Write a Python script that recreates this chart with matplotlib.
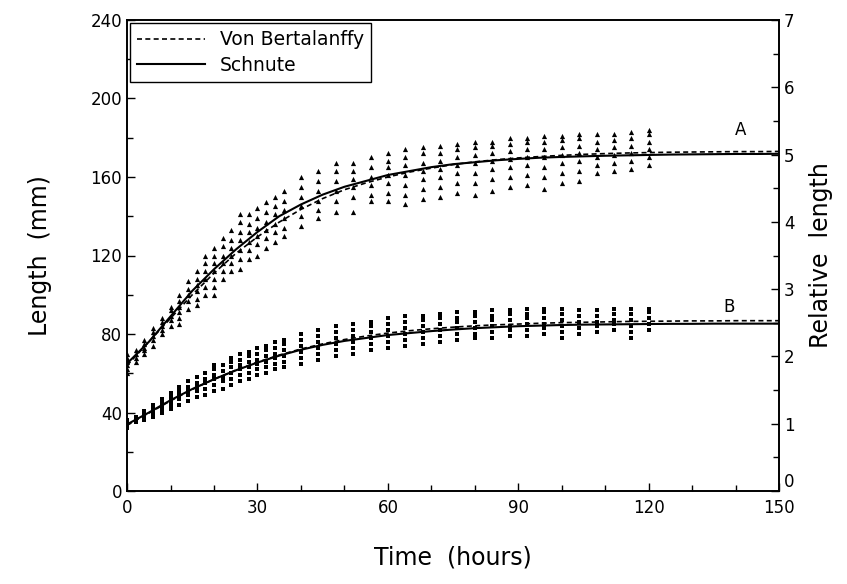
import matplotlib
matplotlib.use("Agg")
import matplotlib.pyplot as plt
from matplotlib.ticker import MultipleLocator
import numpy as np

# ---------------- data ----------------
sample_times = [0, 2, 4, 6, 8, 10, 12, 14, 16, 18, 20, 22, 24, 26, 28, 30, 32, 34, 36,
                40, 44, 48, 52, 56, 60, 64, 68, 72, 76, 80, 84, 88, 92, 96, 100, 104,
                108, 112, 116, 120]

group_a = [
    [60, 62, 64, 66, 68, 70], [66, 68, 70, 72], [70, 72, 73, 75, 77], [74, 77, 79, 81, 83],
    [80, 82, 84, 86, 88], [84, 87, 89, 92, 94], [85, 88, 91, 94, 97, 100],
    [93, 97, 100, 103, 107], [95, 98, 102, 105, 108, 112], [100, 104, 108, 112, 116, 120],
    [100, 104, 108, 112, 116, 120, 124], [108, 112, 116, 120, 125, 129],
    [112, 116, 120, 124, 128, 133], [113, 118, 123, 128, 132, 137, 141],
    [118, 123, 127, 132, 136, 141], [120, 126, 130, 134, 139, 144],
    [124, 129, 133, 137, 142, 147], [127, 132, 136, 141, 145, 150],
    [130, 134, 139, 143, 148, 153], [135, 140, 145, 150, 155, 160],
    [139, 143, 148, 153, 158, 163], [142, 148, 153, 158, 163, 167],
    [142, 150, 155, 159, 163, 167], [148, 151, 156, 160, 165, 170],
    [148, 152, 157, 161, 165, 168, 172], [146, 151, 156, 161, 166, 170, 174],
    [149, 154, 159, 163, 167, 172, 175], [150, 155, 160, 164, 168, 172, 176],
    [152, 157, 162, 166, 170, 174, 177], [151, 157, 162, 167, 171, 175, 178],
    [153, 159, 164, 168, 172, 176, 178], [155, 160, 165, 169, 173, 177, 180],
    [156, 161, 166, 170, 174, 178, 180], [154, 160, 165, 170, 174, 178, 181],
    [157, 162, 167, 171, 175, 179, 181], [158, 163, 168, 172, 176, 180, 182],
    [162, 166, 170, 174, 178, 182], [163, 167, 171, 175, 179, 182],
    [164, 168, 172, 176, 180, 183], [166, 170, 174, 178, 182, 184],
]

group_b = [
    [32, 34, 35, 36], [35, 36, 37, 38], [36, 38, 39, 40, 41], [38, 40, 41, 43, 44],
    [40, 42, 44, 45, 47], [42, 44, 46, 48, 50], [44, 47, 49, 51, 53], [46, 49, 51, 53, 56],
    [48, 51, 53, 55, 58], [49, 52, 55, 57, 60], [51, 54, 57, 59, 62, 64],
    [52, 56, 58, 61, 64], [54, 57, 60, 63, 66, 68], [56, 59, 62, 64, 67, 70],
    [57, 60, 63, 66, 69, 71], [59, 62, 65, 67, 70, 73], [60, 63, 66, 69, 72, 74],
    [62, 65, 68, 70, 73, 76], [63, 66, 69, 72, 75, 77], [65, 68, 71, 74, 77, 80],
    [67, 70, 73, 76, 79, 82], [69, 72, 75, 78, 81, 84], [70, 73, 76, 79, 82, 85],
    [72, 75, 78, 81, 84, 86], [73, 76, 79, 82, 85, 88], [74, 77, 80, 83, 86, 89],
    [75, 78, 81, 84, 87, 89], [76, 79, 82, 85, 88, 90], [77, 80, 83, 86, 88, 91],
    [78, 80, 83, 86, 89, 91], [78, 81, 84, 87, 89, 92], [79, 82, 84, 87, 90, 92],
    [79, 82, 85, 88, 90, 93], [80, 83, 85, 88, 91, 93], [78, 81, 84, 87, 90, 93],
    [80, 83, 86, 89, 92], [81, 84, 86, 89, 92], [82, 85, 87, 90, 93],
    [78, 81, 84, 87, 90, 93], [82, 85, 88, 91, 93],
]

curve_t = [0, 5, 10, 15, 20, 25, 30, 35, 40, 45, 50, 55, 60, 65, 70, 75, 80, 85, 90,
           95, 100, 105, 110, 115, 120, 125, 130, 135, 140, 145, 150]
schnute_a = [65, 76, 89, 102, 113, 123, 132, 140, 146, 151, 155, 158, 161, 163, 165, 166.5,
             167.5, 168.5, 169.2, 169.8, 170.2, 170.5, 170.8, 171, 171.2, 171.4, 171.5,
             171.6, 171.7, 171.7, 171.8]
vb_a = [64, 76, 88, 100, 111, 121, 129.5, 137, 143.5, 149, 153.5, 157, 160, 162.5, 164.5,
        166.3, 167.7, 168.8, 169.7, 170.4, 171, 171.5, 171.9, 172.2, 172.4, 172.6, 172.7,
        172.8, 172.9, 172.9, 173]
schnute_b = [34, 40, 46.3, 52, 57, 61.5, 65.5, 69, 72, 74.5, 76.5, 78, 79.5, 80.5, 81.5,
             82.3, 83, 83.5, 84, 84.3, 84.6, 84.8, 84.9, 85, 85.1, 85.2, 85.2, 85.3, 85.3,
             85.3, 85.3]
vb_b = [33.5, 39.7, 46, 51.8, 57, 61.6, 65.7, 69.3, 72.4, 75, 77.2, 79, 80.5, 81.7, 82.7,
        83.5, 84.2, 84.7, 85.1, 85.5, 85.8, 86, 86.2, 86.4, 86.5, 86.6, 86.7, 86.7, 86.8,
        86.8, 86.8]

# ---------------- figure ----------------
plt.rcParams['font.family'] = ['DejaVu Sans']
fig = plt.figure(figsize=(8.47, 5.84), dpi=100)
ax = fig.add_axes([0.150, 0.159, 0.770, 0.807])

ax_x = [t for t, vals in zip(sample_times, group_a) for _ in vals]
ax_y = [v for vals in group_a for v in vals]
bx_x = [t for t, vals in zip(sample_times, group_b) for _ in vals]
bx_y = [v for vals in group_b for v in vals]

ax.scatter(ax_x, ax_y, marker='^', s=14, color='black', linewidths=0, zorder=3)
ax.scatter(bx_x, bx_y, marker='s', s=10, color='black', linewidths=0, zorder=3)

dash = (0, (3, 2))
ax.plot(curve_t, vb_a, color='black', lw=1.2, linestyle=dash, zorder=4, label='Von Bertalanffy')
ax.plot(curve_t, schnute_a, color='black', lw=1.5, zorder=4, label='Schnute')
ax.plot(curve_t, vb_b, color='black', lw=1.2, linestyle=dash, zorder=4)
ax.plot(curve_t, schnute_b, color='black', lw=1.5, zorder=4)

ax.text(141, 184, 'A', fontsize=12, ha='center', va='center')
ax.text(138.5, 94, 'B', fontsize=12, ha='center', va='center')

ax.set_xlim(0, 150)
ax.set_ylim(0, 240)
ax.xaxis.set_major_locator(MultipleLocator(30))
ax.xaxis.set_minor_locator(MultipleLocator(10))
ax.yaxis.set_major_locator(MultipleLocator(40))
ax.yaxis.set_minor_locator(MultipleLocator(20))
ax.tick_params(which='both', direction='in', labelsize=12, width=1)
ax.tick_params(which='major', length=6)
ax.tick_params(which='minor', length=4)
ax.tick_params(axis='x', pad=6)

ax2 = ax.twinx()
ax2.set_ylim(0, 7)
ax2.yaxis.set_major_locator(MultipleLocator(1))
ax2.yaxis.set_minor_locator(MultipleLocator(0.5))
ax2.tick_params(which='both', direction='in', labelsize=12, width=1)
ax2.tick_params(which='major', length=6)
ax2.tick_params(which='minor', length=4)
fig.canvas.draw()
for lab in ax2.get_yticklabels():
    if lab.get_text() == '0':
        lab.set_va('bottom')

for a in (ax, ax2):
    for s in a.spines.values():
        s.set_linewidth(1.2)

ax.set_xlabel('Time  (hours)', fontsize=17, labelpad=20)
ax.set_ylabel('Length  (mm)', fontsize=17, labelpad=28)
ax2.set_ylabel('Relative  length', fontsize=17, labelpad=10)

leg = ax.legend(loc='upper left', bbox_to_anchor=(0.0, 1.0), frameon=True, fancybox=False,
                edgecolor='black', fontsize=13.5, handlelength=3.6, borderaxespad=0.15,
                framealpha=1, borderpad=0.4, labelspacing=0.35)
leg.get_frame().set_linewidth(1.0)

fig.savefig('out.png', dpi=100)
